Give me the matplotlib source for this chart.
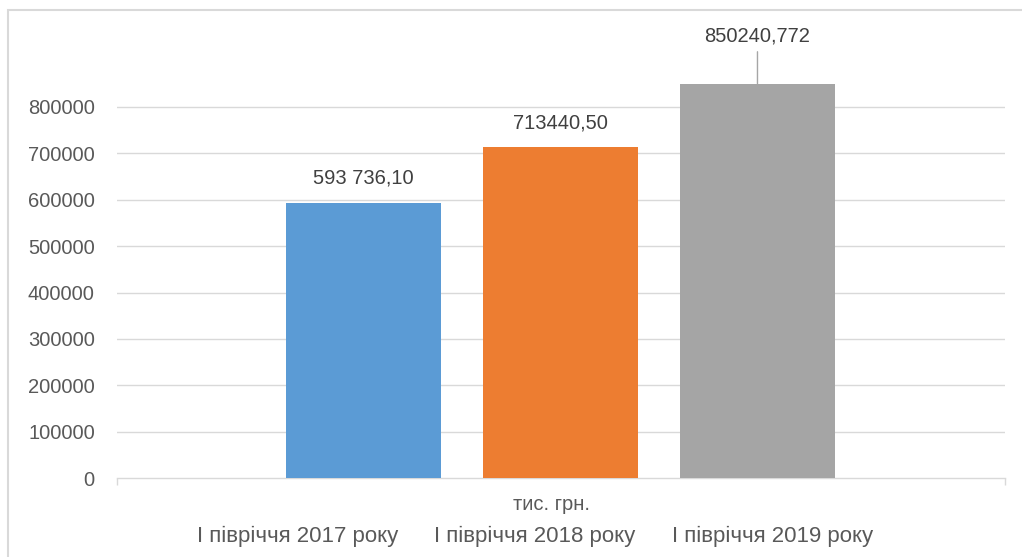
import matplotlib.pyplot as plt
from matplotlib.patches import Rectangle

categories = ['I півріччя 2017 року', 'I півріччя 2018 року', 'I півріччя 2019 року']
values = [593736.10, 713440.50, 850240.772]
value_labels = ['593 736,10', '713440,50', '850240,772']
colors = ['#5b9bd5', '#ed7d31', '#a5a5a5']
yticks = [0, 100000, 200000, 300000, 400000, 500000, 600000, 700000, 800000]

plt.rcParams['font.family'] = ['Liberation Sans', 'DejaVu Sans']

fig = plt.figure(figsize=(10.22, 5.57), dpi=100)
W, H = 1022, 557

# chart frame
fig.patches.append(Rectangle((8 / W, -0.1), 1.1, 1 - 10 / H + 0.1, transform=fig.transFigure,
                             fill=False, edgecolor='#d9d9d9', linewidth=1.5))

# plot area in pixel coords: x 117..1005, y(0)=478, y(800000)=107
px_per_unit = (478 - 107) / 800000
top_val = (478 - 20) / px_per_unit
ax = fig.add_axes([117 / W, (H - 478) / H, (1005 - 117) / W, (478 - 20) / H])
ax.set_ylim(0, top_val)
ax.set_xlim(-1.25, 3.256)

x = list(range(len(values)))
ax.bar(x, values, width=155 / 197, color=colors, zorder=3)

for yv in yticks[1:]:
    ax.plot([-1.25, 3.256], [yv, yv], color='#d9d9d9', linewidth=1, zorder=1)

for s in ['top', 'right', 'left']:
    ax.spines[s].set_visible(False)
ax.spines['bottom'].set_color('#d9d9d9')
ax.spines['bottom'].set_linewidth(1)

ax.set_yticks(yticks)
ax.set_yticklabels([str(v) for v in yticks])
ax.tick_params(axis='y', length=0, pad=16, labelsize=14.5, labelcolor='#595959')
# small ticks only at both ends of the category axis
ax.set_xticks([-1.25, 3.256])
ax.set_xticklabels(['', ''])
ax.tick_params(axis='x', length=5, color='#d9d9d9', width=1)

# data labels (offsets in points, dpi 100)
label_offsets = [17.5, 17.5, 34.5]
for xi, v, lab, off in zip(x, values, value_labels, label_offsets):
    ax.annotate(lab, (xi, v), xytext=(0, off), textcoords='offset points',
                ha='center', va='center', fontsize=14.5, color='#404040')
# leader line for last label
ax.annotate('', (2, values[2]), xytext=(0, 23), textcoords='offset points',
            arrowprops=dict(arrowstyle='-', color='#a6a6a6', linewidth=1,
                            shrinkA=0, shrinkB=0))

# axis title and category labels (offset as in the original)
fig.text(551 / W, 1 - 505 / H, 'тис. грн.', ha='center', va='center', fontsize=14.5, color='#595959')
cat_x = [298, 535, 773]
for cx, c in zip(cat_x, categories):
    fig.text(cx / W, 1 - 536 / H, c, ha='center', va='center', fontsize=16, color='#595959')

fig.savefig('out.png', dpi=100)
